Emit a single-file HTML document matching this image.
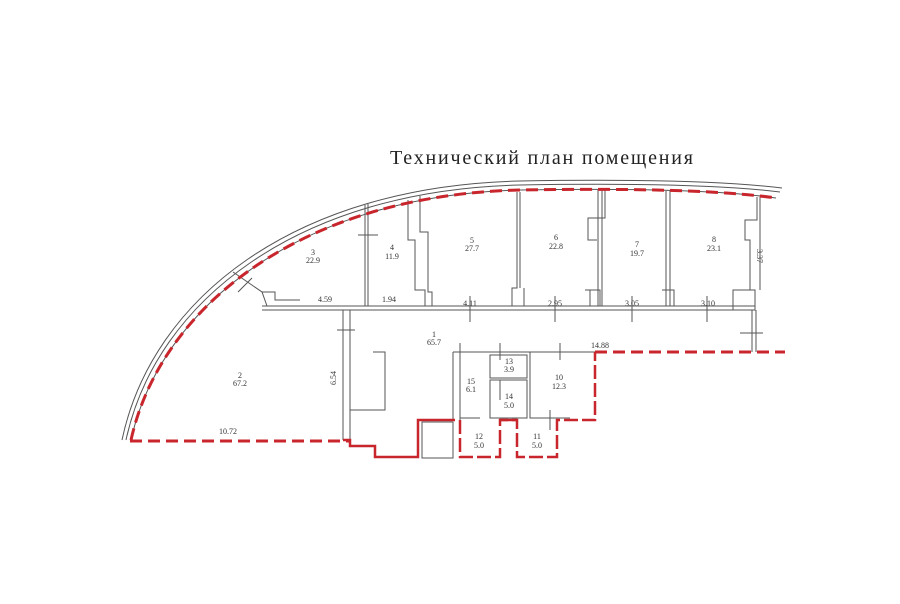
<!DOCTYPE html>
<html><head><meta charset="utf-8"><style>
html,body{margin:0;padding:0;background:#fff;width:900px;height:604px;overflow:hidden}
svg{display:block}
text{font-family:"Liberation Serif",serif;fill:#333}
.n{font-size:8px;text-anchor:middle}
</style></head><body>
<svg width="900" height="604" viewBox="0 0 900 604" xmlns="http://www.w3.org/2000/svg">
<text x="390" y="164" style="font-size:20px;fill:#222" textLength="303" lengthAdjust="spacing">Технический план помещения</text>
<g fill="none" stroke="#555" stroke-width="1">
<path d="M122,440 C152,298 295,186 520,181 Q700,178 782,188"/>
<path d="M126,440 C156,301 298,190 520,185 Q700,182 780,192"/>
<path d="M131,440 C161,305 303,195 520,190 Q700,187 776,198"/>
<path d="M262,306 H755 M262,310 H755"/>
<path d="M233,272 L262,292 L267,306 M262,292 H275 V300 H300"/>
<path d="M365,205 V306 M368,204 V306"/>
<path d="M408,200 V240 H415 V290 H425 V306 M420,196 V232 H428 V292 H432 V306"/>
<path d="M517,192 V288 H512 V306 M520,192 V288 M524,288 V306 H520"/>
<path d="M598,190 V306 M602,190 V306 M605,190 V218 H588 V240 H597 M585,290 H600 V306 M590,290 V306"/>
<path d="M666,191 V306 M670,191 V306 M662,290 H674 V306"/>
<path d="M757,197 V220 H745 V240 H750 V290 M760,197 V290 M733,290 H755 V310 H733 Z M752,310 V352 M756,310 V352"/>
<path d="M358,235 H378 M238,292 L252,278 M337,330 H355 M470,296 V322 M555,296 V322 M632,296 V322 M707,296 V322 M740,333 H763"/>
<path d="M460,343 V360 M500,343 V360 M560,343 V360 M500,380 V400 M460,410 V430 M550,410 V430"/>
<path d="M343,310 V440 M350,310 V440"/>
<path d="M373,352 H385 V410 H350"/>
<path d="M453,352 H595 M453,352 V420 M460,352 V420 M460,418 H480 M490,355 H527 V378 H490 Z M490,380 H527 V418 H490 Z M530,352 V418 H570"/>
<rect x="422" y="422" width="31" height="36"/>
</g>
<g fill="none" stroke="#c8262c" stroke-width="3" stroke-dasharray="12,6">
<path d="M131,440 C161,305 303,195 520,190 Q700,187 776,198"/>
<path d="M130,441 H350"/>
<path d="M595,352 H785"/>
</g>
<g fill="none" stroke="#c8262c" stroke-width="2.5">
<path d="M343,440 H350 V446 H375 V457 H418 V420 H455"/>
<path d="M460,420 V457 H500 V420 H517 V457 H557 V420 H595 V352" stroke-dasharray="14,4"/>
<path d="M500,420 H517"/>
</g>
<g class="n">
<text x="313" y="255">3</text><text x="313" y="263">22.9</text>
<text x="392" y="250">4</text><text x="392" y="259">11.9</text>
<text x="472" y="243">5</text><text x="472" y="251">27.7</text>
<text x="556" y="240">6</text><text x="556" y="249">22.8</text>
<text x="637" y="247">7</text><text x="637" y="256">19.7</text>
<text x="714" y="242">8</text><text x="714" y="251">23.1</text>
<text x="434" y="337">1</text><text x="434" y="345">65.7</text>
<text x="240" y="378">2</text><text x="240" y="386">67.2</text>
<text x="509" y="364">13</text><text x="509" y="372">3.9</text>
<text x="471" y="384">15</text><text x="471" y="392">6.1</text>
<text x="509" y="399">14</text><text x="509" y="408">5.0</text>
<text x="559" y="380">10</text><text x="559" y="389">12.3</text>
<text x="479" y="439">12</text><text x="479" y="448">5.0</text>
<text x="537" y="439">11</text><text x="537" y="448">5.0</text>
<text x="325" y="302">4.59</text><text x="389" y="302">1.94</text>
<text x="470" y="306">4.11</text><text x="555" y="306">2.95</text>
<text x="632" y="306">3.05</text><text x="708" y="306">3.10</text>
<text x="600" y="348">14.88</text><text x="228" y="434">10.72</text>
<text x="336" y="378" transform="rotate(-90 336 378)">6.54</text>
<text x="757" y="256" transform="rotate(90 757 256)">3.37</text>
</g>
</svg>
</body></html>
